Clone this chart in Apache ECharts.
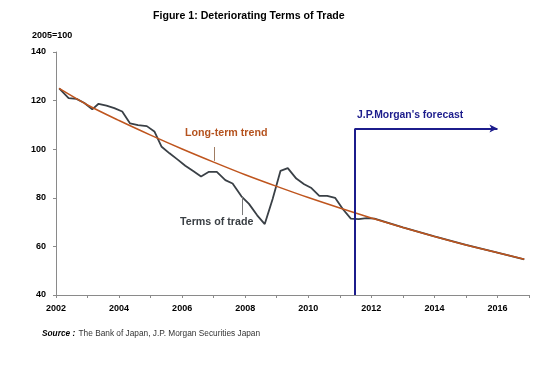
<!DOCTYPE html>
<html><head><meta charset="utf-8">
<script src="https://cdn.jsdelivr.net/npm/echarts@6/dist/echarts.min.js"></script>
<style>html,body{margin:0;padding:0;background:#fff}#c{width:551px;height:384px}</style>
</head><body><div id="c"></div>
<script>
// Terms of trade (2005=100), [year, value]
const termsOfTrade = [
  [2002.1,125.0],[2002.4,121.0],[2002.65,120.7],[2002.9,119.0],[2003.15,116.4],[2003.35,118.7],
  [2003.6,117.9],[2003.85,116.9],[2004.1,115.5],[2004.35,110.6],[2004.6,109.9],[2004.88,109.5],
  [2005.12,107.3],[2005.35,101.0],[2005.6,98.3],[2005.85,95.8],[2006.1,93.2],[2006.35,91.0],
  [2006.6,88.8],[2006.85,90.7],[2007.1,90.7],[2007.37,87.3],[2007.6,85.9],[2007.88,80.6],
  [2008.12,77.5],[2008.38,72.8],[2008.62,69.2],[2008.87,79.5],[2009.12,91.1],[2009.35,92.2],
  [2009.62,87.9],[2009.87,85.6],[2010.1,84.0],[2010.35,80.8],[2010.6,80.8],[2010.85,80.0],
  [2011.1,75.3],[2011.35,71.4],[2011.6,71.2],[2011.85,71.6],[2012.1,71.4],
  [2013,67.8],[2014,64.1],[2015,60.6],[2016,57.4],[2016.85,54.7]
];
// Long-term trend, [year, value]
const longTermTrend = [
  [2002.1,125.0],[2003,118.2],[2004,111.8],[2005,105.8],[2006,100.1],[2007,94.7],[2008,89.5],
  [2009,84.7],[2010,80.1],[2011,75.8],[2012,71.7],[2013,67.8],[2014,64.1],[2015,60.6],
  [2016,57.4],[2016.85,54.7]
];
const forecastStart = 2011.48;
const forecastEnd = 2016.0;
const forecastLevel = 108.5;
const xTickLabels = ['2002','2004','2006','2008','2010','2012','2014','2016'];
const yTicks = [40,60,80,100,120,140];

const chart = echarts.init(document.getElementById('c'), null, {renderer:'canvas'});
const FONT = 'Liberation Sans, Arial, sans-serif';
chart.setOption({
  animation:false,
  backgroundColor:'#fff',
  grid:{left:56,right:22,top:52,bottom:89},
  xAxis:{type:'value',min:2002,max:2017,interval:1,
    axisLine:{lineStyle:{color:'#8a8a8a',width:1}},
    axisTick:{show:true,length:3,lineStyle:{color:'#8a8a8a'}},
    splitLine:{show:false},
    axisLabel:{margin:9,color:'#000',fontFamily:FONT,fontWeight:'bold',fontSize:9,
      formatter:v=>{const s=String(Math.round(v));return xTickLabels.includes(s)?s:'';}}
  },
  yAxis:{type:'value',min:yTicks[0],max:yTicks[yTicks.length-1],interval:20,
    axisLine:{show:true,lineStyle:{color:'#8a8a8a',width:1}},
    axisTick:{show:true,length:3,lineStyle:{color:'#8a8a8a'}},
    splitLine:{show:false},
    axisLabel:{margin:10,color:'#000',fontFamily:FONT,fontWeight:'bold',fontSize:9}
  },
  series:[
    {type:'line',name:'Terms of trade',data:termsOfTrade,symbol:'none',z:2,
      lineStyle:{color:'#3a4046',width:1.8}},
    {type:'line',name:'Long-term trend',data:longTermTrend,symbol:'none',smooth:0.3,z:3,
      lineStyle:{color:'#bf551e',width:1.5},
      markLine:{silent:true,symbol:'none',label:{show:false},animation:false,
        data:[
          [{coord:[2007.02,100.9],lineStyle:{color:'#a07c62',width:1,type:'solid'}},{coord:[2007.02,95.2]}],
          [{coord:[2007.92,80.4],lineStyle:{color:'#7a7a7a',width:1,type:'solid'}},{coord:[2007.92,72.9]}]
        ]}
    },
    {type:'line',name:'forecast',data:[],z:4,
      markLine:{silent:true,label:{show:false},animation:false,
        lineStyle:{color:'#1c1c8c',width:2,type:'solid'},
        data:[
          [{coord:[forecastStart,40],symbol:'none'},{coord:[forecastStart,forecastLevel],symbol:'none'}],
          [{coord:[forecastStart,forecastLevel],symbol:'none'},{coord:[forecastEnd,forecastLevel],symbol:'arrow',symbolSize:[6,8]}]
        ]}
    }
  ],
  graphic:[
    {type:'text',left:153,top:11,style:{text:'Figure 1: Deteriorating Terms of Trade',font:'bold 10.6px '+FONT,fill:'#000'}},
    {type:'text',left:32,top:31,style:{text:'2005=100',font:'bold 9px '+FONT,fill:'#000'}},
    {type:'text',left:185,top:128,style:{text:'Long-term trend',font:'bold 10.7px '+FONT,fill:'#b5531f'}},
    {type:'text',left:180,top:217,style:{text:'Terms of trade',font:'bold 10.7px '+FONT,fill:'#3a3f44'}},
    {type:'text',left:357,top:110,style:{text:"J.P.Morgan's forecast",font:'bold 10.4px '+FONT,fill:'#1c1c8c'}},
    {type:'text',left:42,top:328,style:{
      text:'{b|Source :} {n|The Bank of Japan, J.P. Morgan Securities Japan}',
      rich:{b:{font:'italic bold 8.3px '+FONT,fill:'#000'},n:{font:'8.3px '+FONT,fill:'#333'}}}}
  ]
});
</script></body></html>
